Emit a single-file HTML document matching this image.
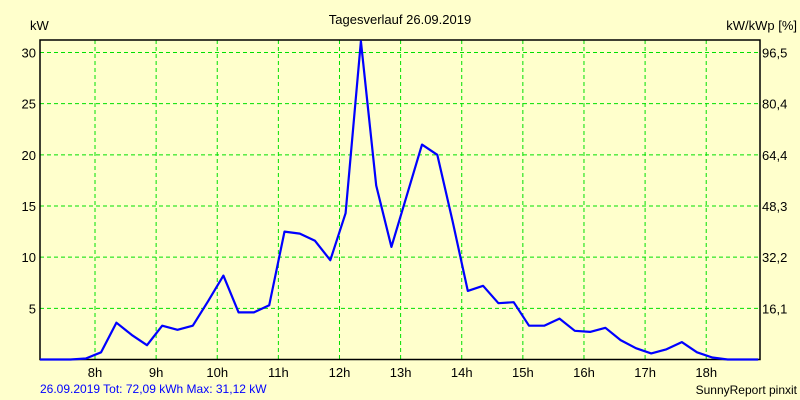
<!DOCTYPE html>
<html><head><meta charset="utf-8"><style>
body{margin:0;background:#ffffcc;}
svg{display:block;font-family:"Liberation Sans",sans-serif;}
</style></head><body>
<svg width="800" height="400" id="chart">
<rect x="0" y="0" width="800" height="400" fill="#ffffcc"/>
<text x="400" y="24" font-size="13" text-anchor="middle">Tagesverlauf 26.09.2019</text>
<text x="30" y="30" font-size="13">kW</text>
<text x="797" y="30" font-size="13" text-anchor="end">kW/kWp [%]</text>
<text x="40" y="393" font-size="12" fill="#0000ff">26.09.2019 Tot: 72,09 kWh Max: 31,12 kW</text>
<text x="797" y="394" font-size="12" text-anchor="end">SunnyReport pinxit</text>
<g id="grid"></g>
<g id="labels"></g>
<rect x="40" y="40" width="720" height="319.5" fill="none" stroke="#000" stroke-width="1.5"/>
<path id="series" fill="none" stroke="#0000ff" stroke-width="2.2" stroke-linejoin="round"/>
</svg>
<script>
const startHour = 7.1;
const stepHours = 0.25;
const powerKW = [0,0,0,0.1,0.7,3.6,2.4,1.4,3.3,2.9,3.3,5.7,8.2,4.6,4.6,5.3,12.5,12.3,11.6,9.7,14.3,31.1,17.0,11.0,16.0,21.0,20.0,13.5,6.7,7.2,5.5,5.6,3.3,3.3,4.0,2.8,2.7,3.1,1.9,1.1,0.6,1.0,1.7,0.7,0.2,0,0,0];
const hourTicks = [8,9,10,11,12,13,14,15,16,17,18];
const kwTicks = [5,10,15,20,25,30];
const pctLabels = ["16,1","32,2","48,3","64,4","80,4","96,5"];
const ns="http://www.w3.org/2000/svg";
const xDom=[7.1,18.88], yDom=[0,30];
const X=h=>40+(h-xDom[0])/(xDom[1]-xDom[0])*720;
const Y=v=>359.5-(v-yDom[0])/(yDom[1]-yDom[0])*307;
const grid=document.getElementById('grid'), labels=document.getElementById('labels');
function mk(tag,attrs,parent){const e=document.createElementNS(ns,tag);for(const k in attrs)e.setAttribute(k,attrs[k]);parent.appendChild(e);return e;}
hourTicks.forEach(h=>{
  const l=mk('line',{x1:X(h),x2:X(h),y1:40,y2:359,stroke:'#00e000','stroke-dasharray':'4,3','stroke-width':1},grid);
  
  
  const t=mk('text',{x:X(h),y:377,'font-size':13,'text-anchor':'middle'},labels);
  t.textContent=h+'h';
  
  
});
kwTicks.forEach((v,i)=>{
  const l=mk('line',{x1:40,x2:760,y1:Y(v),y2:Y(v),stroke:'#00e000','stroke-dasharray':'4,3','stroke-width':1},grid);
  
  
  const t=mk('text',{x:36,y:Y(v)+5,'font-size':13,'text-anchor':'end'},labels);
  t.textContent=v;
  
  
  const r=mk('text',{x:762,y:Y(v)+5,'font-size':13},labels);
  r.textContent=pctLabels[i];
  
  
});
document.getElementById('series').setAttribute('d',powerKW.map((v,i)=>(i?'L':'M')+X(startHour+i*stepHours).toFixed(1)+','+Y(v).toFixed(1)).join(''));
</script>
</body></html>
